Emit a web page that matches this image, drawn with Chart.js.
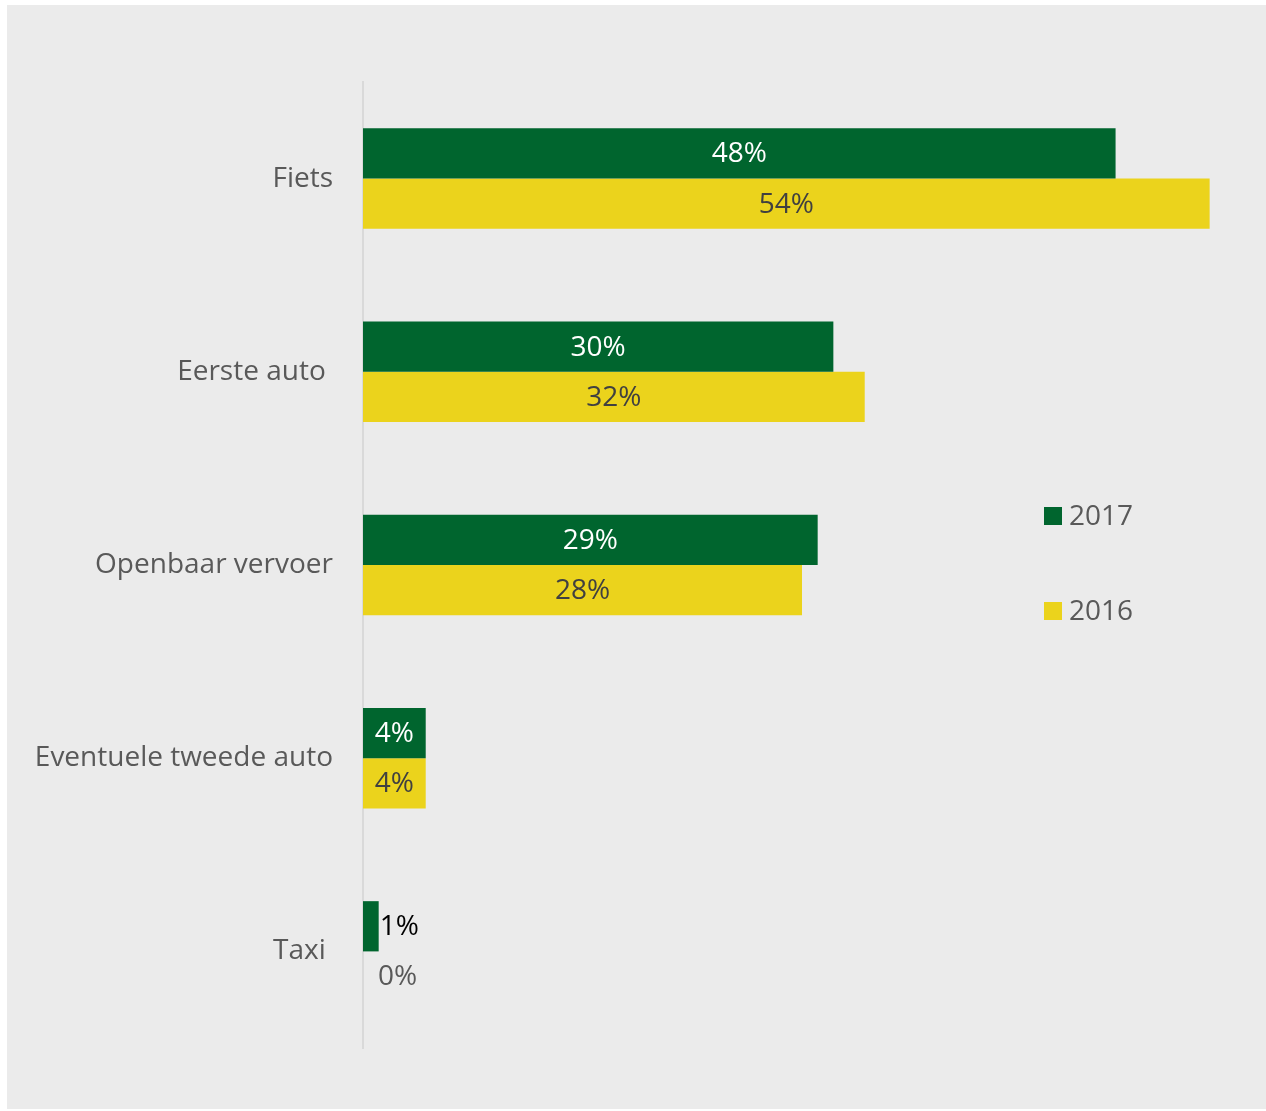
<!DOCTYPE html>
<html>
<head>
<meta charset="utf-8">
<script src="https://cdn.jsdelivr.net/npm/chart.js@4.4.1/dist/chart.umd.min.js"></script>
<style>
  body { margin: 0; background: #ffffff; }
  #wrap { position: absolute; left: 7px; top: 5px; width: 1259px; height: 1104px; background: #ebebeb; }
</style>
</head>
<body>
<div id="wrap"><canvas id="chart" width="1259" height="1104"></canvas></div>
<script>
// categories and values (percent)
var categories = ["Fiets", "Eerste auto ", "Openbaar vervoer", "Eventuele tweede auto", "Taxi "];
var values2017 = [48, 30, 29, 4, 1];
var values2016 = [54, 32, 28, 4, 0];
var seriesNames = ["2017", "2016"];

var FONT = "'Open Sans', sans-serif";

// value labels, drawn from the bar elements
var barLabels = {
  id: 'barLabels',
  afterDatasetsDraw: function(chart) {
    var ctx = chart.ctx;
    var base = chart.scales.x.getPixelForValue(0);
    ctx.save();
    ctx.font = "28px " + FONT;
    ctx.textBaseline = 'middle';
    chart.data.datasets.forEach(function(ds, i) {
      chart.getDatasetMeta(i).data.forEach(function(bar, j) {
        var txt = ds.data[j] + '%';
        var w = ctx.measureText(txt).width;
        if (bar.x - base > w + 6) {
          ctx.textAlign = 'center';
          ctx.fillStyle = i === 0 ? '#ffffff' : '#404040';
          ctx.fillText(txt, (bar.x + base) / 2, bar.y + 1);
        } else {
          ctx.textAlign = 'left';
          ctx.fillStyle = i === 0 ? '#000000' : '#595959';
          ctx.fillText(txt, Math.max(bar.x + 1, base + 15), bar.y + 1);
        }
      });
    });
    ctx.restore();
  }
};

// legend on the right
var sideLegend = {
  id: 'sideLegend',
  afterDraw: function(chart) {
    var ctx = chart.ctx;
    var ys = [511, 606];
    ctx.save();
    ctx.font = "28px " + FONT;
    ctx.textBaseline = 'middle';
    ctx.textAlign = 'left';
    chart.data.datasets.forEach(function(ds, i) {
      ctx.fillStyle = ds.backgroundColor;
      ctx.fillRect(1037, ys[i] - 9, 18, 18);
      ctx.fillStyle = '#595959';
      ctx.fillText(ds.label, 1062, ys[i] + 1);
    });
    ctx.restore();
  }
};

new Chart(document.getElementById("chart"), {
  type: 'bar',
  data: {
    labels: categories,
    datasets: [{
      label: seriesNames[0],
      data: values2017,
      backgroundColor: '#00652e'
    }, {
      label: seriesNames[1],
      data: values2016,
      backgroundColor: '#ebd31c'
    }]
  },
  options: {
    indexAxis: 'y',
    responsive: false,
    animation: false,
    devicePixelRatio: 1,
    layout: { padding: { top: 77, bottom: 61, left: 0, right: 25 } },
    datasets: { bar: { categoryPercentage: 0.52, barPercentage: 1 } },
    scales: {
      x: { display: false, min: 0, max: 56 },
      y: {
        grid: { display: false, drawTicks: false },
        border: { color: '#d9d9d9', width: 2 },
        ticks: { color: '#595959', font: { family: FONT, size: 28 }, padding: 30 },
        afterFit: function(scale) { scale.width = 356; }
      }
    },
    plugins: {
      legend: { display: false },
      tooltip: { enabled: false }
    }
  },
  plugins: [barLabels, sideLegend]
});
</script>
</body>
</html>
